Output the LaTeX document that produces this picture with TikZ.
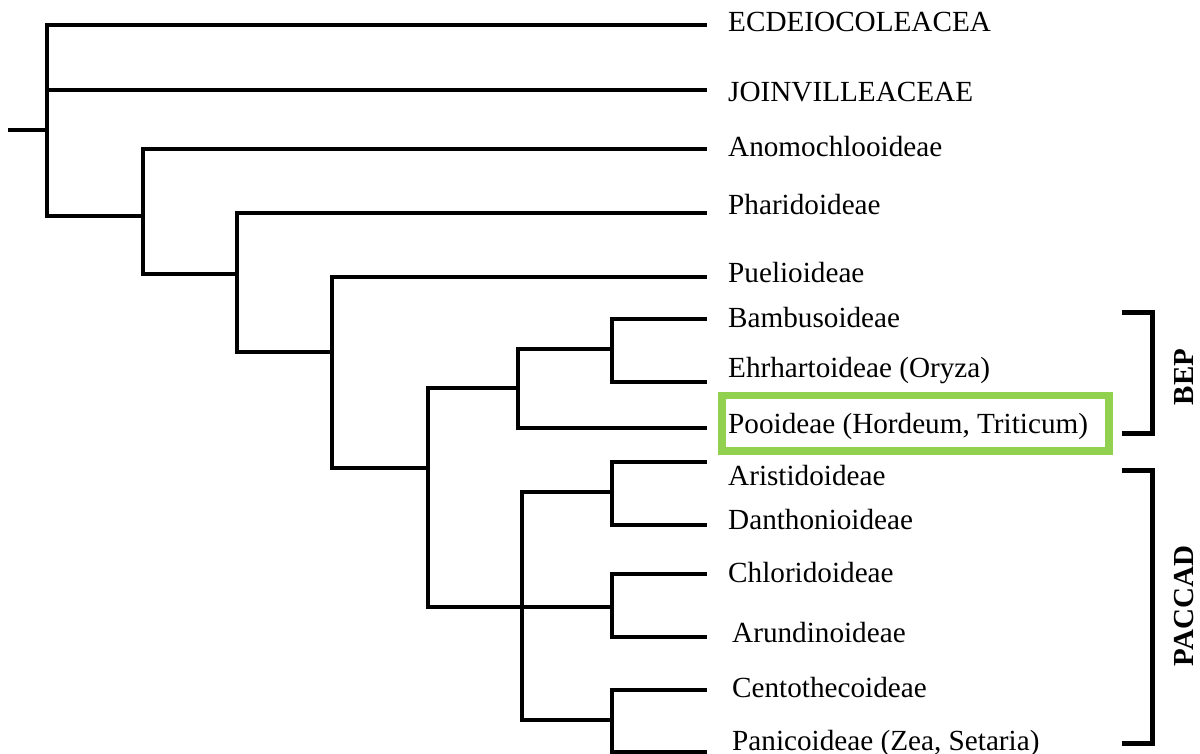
\documentclass[tikz,border=0pt]{standalone}
\usepackage{fontspec}
\setmainfont{Liberation Serif}
\usetikzlibrary{positioning}
\definecolor{boxgreen}{HTML}{92D050}
\tikzset{
  branch/.style={line width=3.6pt, color=black, line join=miter},
  taxon/.style={anchor=base west, inner sep=0pt, font=\fontsize{29.2}{35}\selectfont},
  hilite/.style={draw=boxgreen, line width=7.5pt, inner sep=0pt},
  clade/.style={line width=5pt, color=black, line join=miter},
  cladename/.style={rotate=90, inner sep=0pt, font=\fontsize{29}{35}\selectfont\bfseries},
}

\begin{document}
\begin{tikzpicture}[x=1pt,y=-1pt]
  \useasboundingbox (0,0) rectangle (1200,754);
  % internal nodes
  \coordinate (stub) at (8,130);
  \coordinate (root) at (47,130);
  \coordinate (n1) at (143,216);
  \coordinate (n2) at (237,274);
  \coordinate (n3) at (332,352);
  \coordinate (n4) at (428,468);
  \coordinate (bepn) at (518,388);
  \coordinate (bamn) at (612,349);
  \coordinate (pacn) at (522,607);
  \coordinate (arin) at (612,492);
  \coordinate (chln) at (612,607);
  \coordinate (cenn) at (612,720);
  % leaf tips
  \coordinate (ecd) at (707,25);
  \coordinate (joi) at (707,90);
  \coordinate (ano) at (707,149);
  \coordinate (pha) at (707,213);
  \coordinate (pue) at (707,277);
  \coordinate (bam) at (707,319);
  \coordinate (ehr) at (707,382);
  \coordinate (poo) at (707,428);
  \coordinate (ari) at (707,462);
  \coordinate (dan) at (707,525);
  \coordinate (chl) at (707,574);
  \coordinate (aru) at (707,637);
  \coordinate (cen) at (707,690);
  \coordinate (pan) at (707,752);

  % highlighted subfamily
  \node[hilite, minimum width=387pt, minimum height=55.5pt] (hl) at (915.5,423.25) {};

  % taxon names
  \node[taxon] (ecdL) at (728,32) {ECDEIOCOLEACEA};
  \node[taxon] (joiL) at (728,102) {JOINVILLEACEAE};
  \node[taxon] (anoL) at (728,157) {Anomochlooideae};
  \node[taxon] (phaL) at (728,215) {Pharidoideae};
  \node[taxon] (pueL) at (728,283) {Puelioideae};
  \node[taxon] (bamL) at (728,327) {Bambusoideae};
  \node[taxon] (ehrL) at (728,377) {Ehrhartoideae (Oryza)};
  \node[taxon] (pooL) at (728,433) {Pooideae (Hordeum, Triticum)};
  \node[taxon] (ariL) at (728,485) {Aristidoideae};
  \node[taxon] (danL) at (728,529) {Danthonioideae};
  \node[taxon] (chlL) at (728,582) {Chloridoideae};
  \node[taxon] (aruL) at (732,642) {Arundinoideae};
  \node[taxon] (cenL) at (732,697) {Centothecoideae};
  \node[taxon] (panL) at (732,750) {Panicoideae (Zea, Setaria)};

  % the tree
  \draw[branch] (stub) -- (root);
  \draw[branch] (root) |- (ecd) (root) |- (joi) (root) |- (n1);
  \draw[branch] (n1) |- (ano) (n1) |- (n2);
  \draw[branch] (n2) |- (pha) (n2) |- (n3);
  \draw[branch] (n3) |- (pue) (n3) |- (n4);
  \draw[branch] (n4) |- (bepn) (n4) |- (pacn);
  \draw[branch] (bepn) |- (bamn) (bepn) |- (poo);
  \draw[branch] (bamn) |- (bam) (bamn) |- (ehr);
  \draw[branch] (pacn) |- (arin) (pacn) |- (chln) (pacn) |- (cenn);
  \draw[branch] (arin) |- (ari) (arin) |- (dan);
  \draw[branch] (chln) |- (chl) (chln) |- (aru);
  \draw[branch] (cenn) |- (cen) (cenn) |- (pan);

  % clade brackets
  \coordinate (bepT) at (1122,312);
  \coordinate (bepB) at (1122,433);
  \coordinate (pacT) at (1122,470);
  \coordinate (pacB) at (1122,743);
  \draw[clade] (bepT) -- ++(30,0) |- (bepB);
  \draw[clade] (pacT) -- ++(30,0) |- (pacB);
  \node[cladename] (bep) at (1184,377) {BEP};
  \node[cladename] (pac) at (1184,606) {PACCAD};
\end{tikzpicture}
\end{document}
